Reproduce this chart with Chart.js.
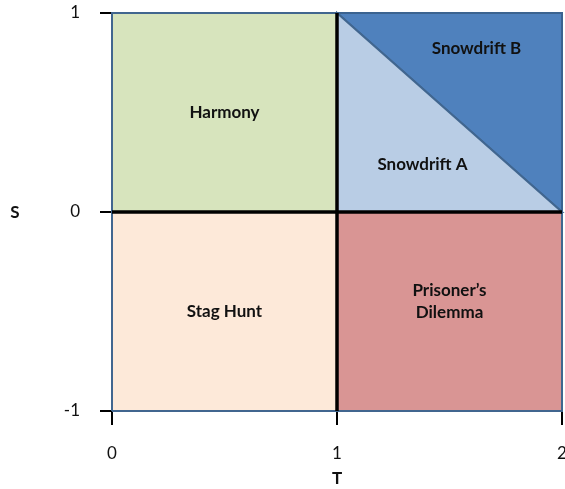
<!DOCTYPE html>
<html>
<head>
<meta charset="utf-8">
<script src="https://cdn.jsdelivr.net/npm/chart.js@4.4.1/dist/chart.umd.min.js"></script>
<style>
  html, body { margin: 0; padding: 0; background: #fff; }
  #wrap { width: 565px; height: 489px; }
</style>
</head>
<body>
<div id="wrap"><canvas id="myChart" width="565" height="489"></canvas></div>
<script>
// region corners, in (T, S) units
const harmony = [[0, 0], [1, 0], [1, 1], [0, 1], [0, 0]];
const stagHunt = [[0, -1], [1, -1], [1, 0], [0, 0], [0, -1]];
const prisoners = [[1, -1], [2, -1], [2, 0], [1, 0], [1, -1]];
const snowdriftA = [[1, 0], [2, 0], [1, 1], [1, 0]];
const snowdriftB = [[1, 1], [2, 1], [2, 0], [1, 1]];
const dividerT = [[1, -1], [1, 1]];
const dividerS = [[0, 0], [2, 0]];

const xTicks = [0, 1, 2];
const yTicks = [-1, 0, 1];

const regionNames = ['Harmony', 'Snowdrift A', 'Snowdrift B', 'Stag Hunt', ['Prisoner\u2019s', 'Dilemma']];
const labelT = [0.5, 1.38, 1.62, 0.5, 1.5];
const labelS = [0.5, 0.24, 0.82, -0.5, -0.45];

const font = 'Lato, "Open Sans", sans-serif';

const toPts = arr => arr.map(p => ({ x: p[0], y: p[1] }));

const region = (pts, color, edge) => ({
  data: toPts(pts),
  showLine: true,
  fill: 'shape',
  backgroundColor: color,
  borderColor: edge || '#41668f',
  borderWidth: 2,
  pointRadius: 0,
  tension: 0,
  clip: 4,
  order: 2
});

const divider = pts => ({
  data: toPts(pts),
  showLine: true,
  fill: false,
  borderColor: '#000',
  borderWidth: 3.5,
  pointRadius: 0,
  clip: 4,
  order: 0
});

const labelsPlugin = {
  id: 'regionLabels',
  afterDatasetsDraw(chart) {
    const { ctx, scales: { x, y } } = chart;
    ctx.save();
    ctx.fillStyle = '#111';
    ctx.textAlign = 'center';
    ctx.textBaseline = 'middle';
    ctx.font = 'bold 17px ' + font;
    regionNames.forEach((name, i) => {
      const px = x.getPixelForValue(labelT[i]);
      const py = y.getPixelForValue(labelS[i]);
      const lines = Array.isArray(name) ? name : [name];
      lines.forEach((ln, j) => {
        ctx.fillText(ln, px, py + (j - (lines.length - 1) / 2) * 22);
      });
    });
    // axis titles
    ctx.fillText('S', 15, y.getPixelForValue(0) + 1);
    ctx.fillText('T', x.getPixelForValue(1), 479);
    ctx.restore();
  }
};

new Chart(document.getElementById('myChart'), {
  type: 'scatter',
  data: {
    datasets: [
      divider(dividerT),
      divider(dividerS),
      region(harmony, '#d7e4bd'),
      region(stagHunt, '#fde9d9'),
      region(prisoners, '#d99594'),
      region(snowdriftA, '#b9cde5', '#41668f'),
      region(snowdriftB, '#4f81bd', '#3b6390')
    ]
  },
  options: {
    responsive: false,
    animation: false,
    layout: { padding: { top: 13, right: 3, left: 0, bottom: 0 } },
    plugins: {
      legend: { display: false },
      tooltip: { enabled: false }
    },
    scales: {
      x: {
        type: 'linear',
        min: 0,
        max: 2,
        afterBuildTicks: s => { s.ticks = xTicks.map(v => ({ value: v })); },
        afterFit: s => { s.height = 78; s.paddingLeft = 0; s.paddingRight = 0; },
        border: { display: false },
        grid: { drawOnChartArea: false, drawTicks: true, tickLength: 14, color: '#000', lineWidth: 2 },
        ticks: { color: '#111', font: { family: font, size: 17 }, padding: 18, maxRotation: 0 }
      },
      y: {
        type: 'linear',
        min: -1,
        max: 1,
        afterBuildTicks: s => { s.ticks = yTicks.map(v => ({ value: v })); },
        afterFit: s => { s.width = 112; s.paddingTop = 0; s.paddingBottom = 0; },
        border: { display: false },
        grid: { drawOnChartArea: false, drawTicks: true, tickLength: 12, color: '#000', lineWidth: 2 },
        ticks: { color: '#111', font: { family: font, size: 17 }, padding: 20 }
      }
    }
  },
  plugins: [labelsPlugin]
});
</script>
</body>
</html>
